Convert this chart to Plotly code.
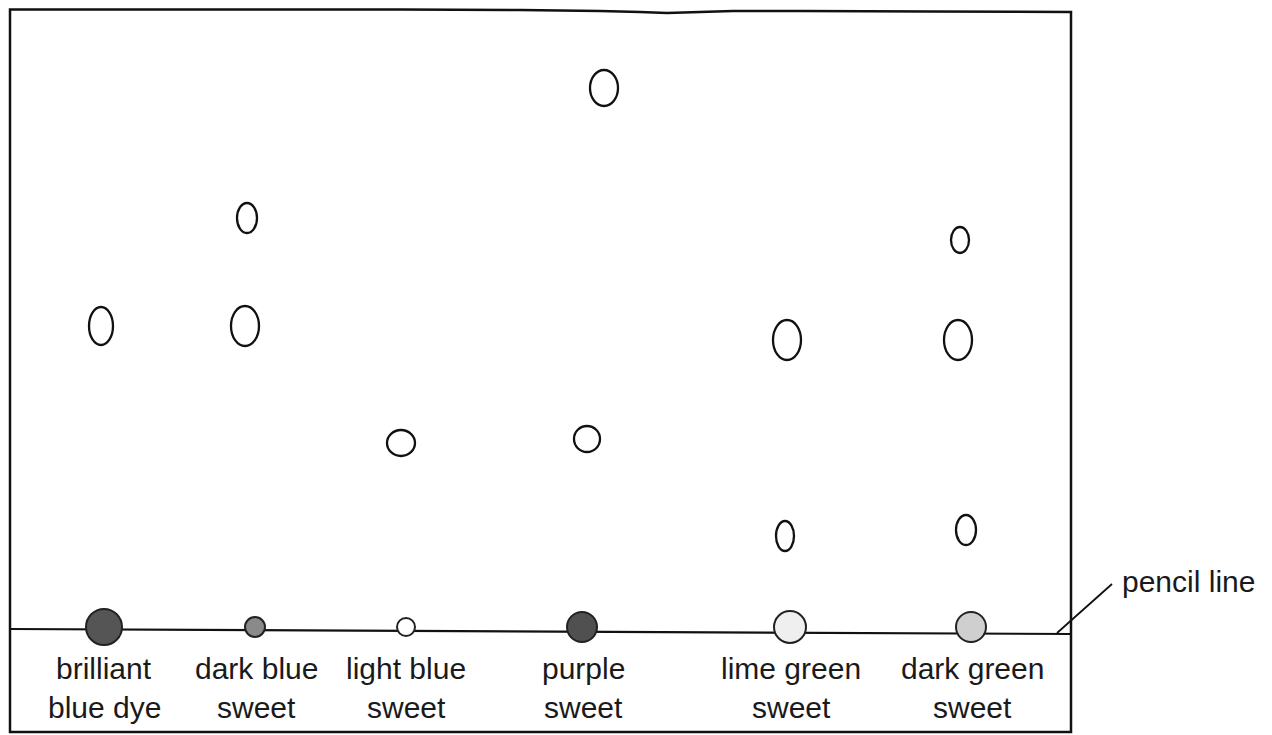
import plotly.graph_objects as go

# ---- data (diagram units: x across the paper, y = distance above pencil line) ----
lane_names = ["brilliant<br>blue dye", "dark blue<br>sweet", "light blue<br>sweet",
              "purple<br>sweet", "lime green<br>sweet", "dark green<br>sweet"]
lane_x = [104, 255, 406, 582, 790, 971]
label_x = [104, 256, 406, 583, 791, 972]
origin_fill = ["#555555", "#8a8a8a", "#ffffff", "#505050", "#efefef", "#cfcfcf"]
origin_r = [18, 10, 9, 15, 16, 15]

spot_lane = [0, 1, 1, 2, 3, 3, 4, 4, 5, 5, 5]
spot_x = [101, 247, 245, 401, 604, 587, 787, 785, 960, 958, 966]
spot_dist = [304, 412, 304, 187, 542, 191, 290, 94, 390, 290, 100]
spot_w = [24, 20, 28, 28, 28, 26, 28, 18, 18, 28, 20]
spot_h = [38, 30, 40, 26, 36, 26, 40, 30, 26, 40, 30]

label_y = [-38, -77]

# page offset (browser body margin) compensation
OFF = 8
W, H = 1272, 735
X0, X1 = OFF, W
Y_TOP, Y_BOT = 630 - OFF, 630 - H

FONT = dict(size=30, color="#1a1a1a", family="Liberation Sans, Arial")

fig = go.Figure()
shapes = []

# paper frame with slightly wavy torn top edge
frame_path = ("M 10 -102 L 10 620.5 L 400 620.5 L 520 620 L 600 619 L 640 618 L 667 617 "
              "L 700 618 L 733 619 L 800 619 L 930 618.5 L 1071 618 L 1071 -102 Z")
shapes.append(dict(type="path", path=frame_path, xref="x", yref="y",
                   line=dict(color="#111", width=2.5), fillcolor="rgba(0,0,0,0)"))
# pencil line
shapes.append(dict(type="line", x0=10, y0=1, x1=1071, y1=-4, xref="x", yref="y",
                   line=dict(color="#111", width=2.2)))
# leader line to label
shapes.append(dict(type="line", x0=1057, y0=-3, x1=1112, y1=46, xref="x", yref="y",
                   line=dict(color="#111", width=1.8)))

# origin spots
for x, f, r in zip(lane_x, origin_fill, origin_r):
    shapes.append(dict(type="circle", xref="x", yref="y", x0=x - r, x1=x + r,
                       y0=3 - r, y1=3 + r, fillcolor=f,
                       line=dict(color="#222", width=2)))

# separated spots
for x, d, w, h in zip(spot_x, spot_dist, spot_w, spot_h):
    shapes.append(dict(type="circle", xref="x", yref="y", x0=x - w / 2, x1=x + w / 2,
                       y0=d - h / 2, y1=d + h / 2, fillcolor="rgba(0,0,0,0)",
                       line=dict(color="#111", width=2.3)))

# invisible trace so axes exist
fig.add_trace(go.Scatter(x=spot_x, y=spot_dist, mode="markers",
                         marker=dict(size=1, opacity=0), hoverinfo="skip",
                         showlegend=False))

annotations = []
for name, x in zip(lane_names, label_x):
    for line_text, yy in zip(name.split("<br>"), label_y):
        annotations.append(dict(x=x, y=yy, text=line_text, showarrow=False,
                                xref="x", yref="y", xanchor="center", yanchor="middle",
                                font=FONT))
annotations.append(dict(x=1120, y=49, text="pencil line", showarrow=False,
                        xref="x", yref="y", xanchor="left", yanchor="middle",
                        font=FONT))

fig.update_layout(
    width=W - OFF, height=H - OFF,
    margin=dict(l=0, r=0, t=0, b=0),
    paper_bgcolor="white", plot_bgcolor="white",
    shapes=shapes, annotations=annotations,
    xaxis=dict(range=[X0, X1], visible=False, fixedrange=True),
    yaxis=dict(range=[Y_BOT, Y_TOP], visible=False, fixedrange=True),
    showlegend=False,
)

fig.write_html("out.html")
